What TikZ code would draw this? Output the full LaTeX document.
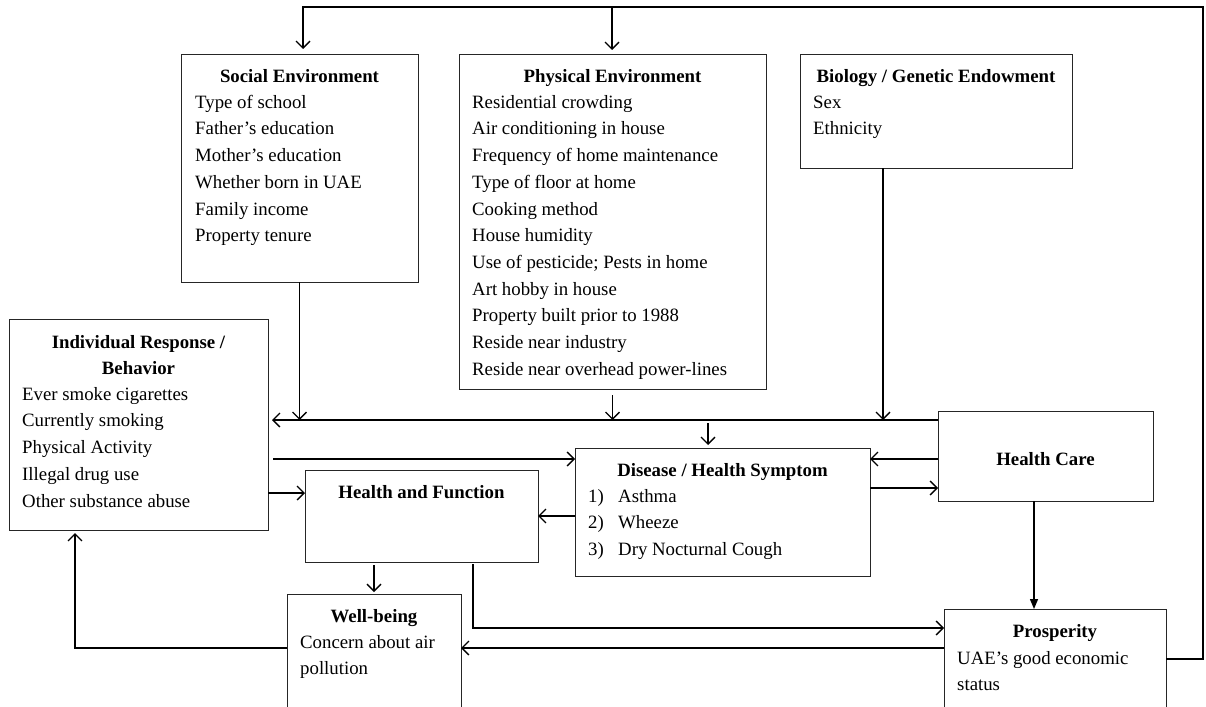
\documentclass[tikz,border=0pt]{standalone}
\usepackage{fontspec}
\setmainfont{Liberation Serif}
\usetikzlibrary{arrows.meta, calc}
\newcommand{\fsz}{\fontsize{18.8}{26.7}\selectfont}
\tikzset{
  box/.style   = {draw=black!85, line width=1pt, inner sep=0pt, outer sep=0pt,
                  anchor=north west},
  ttl/.style   = {font=\fsz\bfseries, anchor=north, align=center,
                  inner sep=0pt, yshift=18.69pt},
  items/.style = {font=\fsz, anchor=north west, align=left,
                  inner sep=0pt, yshift=18.69pt},
  conn/.style  = {line width=1.4pt, black},
  arr/.style   = {conn, -{Straight Barb[length=7pt,width=14pt,line width=1.3pt]}},
  farr/.style  = {conn, -{Triangle[length=10pt,width=8pt]}}
}

\begin{document}
\begin{tikzpicture}[x=1pt, y=-1pt]
  \useasboundingbox (0,0) rectangle (1206,706);
  \clip (0,0) rectangle (1206,706);

  %% Boxes
  \node[box, minimum width=237pt, minimum height=227pt] (soc)  at (181,55)  {};
  \node[box, minimum width=307pt, minimum height=334pt] (phy)  at (459,55)  {};
  \node[box, minimum width=272pt, minimum height=113pt] (bio)  at (800,55)  {};
  \node[box, minimum width=259pt, minimum height=211pt] (ind)  at (9,319)   {};
  \node[box, minimum width=295pt, minimum height=128pt] (dis)  at (575,448) {};
  \node[box, minimum width=233pt, minimum height=92pt]  (hf)   at (305,470) {};
  \node[box, minimum width=215pt, minimum height=90pt]  (hc)   at (938,411) {};
  \node[box, minimum width=174pt, minimum height=140pt] (wb)   at (287,594) {};
  \node[box, minimum width=222pt, minimum height=130pt] (pros) at (944,609) {};

  %% Texts (placed by first baseline)
  \node[ttl] (soc-t) at (299.5,82) {\strut Social Environment};
  \node[items] (soc-i) at (195,108) {\strut Type of school\\ Father’s education\\
    Mother’s education\\ Whether born in UAE\\ Family income\\ Property tenure};

  \node[ttl] (phy-t) at (612.5,82) {\strut Physical Environment};
  \node[items] (phy-i) at (472,108) {\strut Residential crowding\\
    Air conditioning in house\\ Frequency of home maintenance\\
    Type of floor at home\\ Cooking method\\ House humidity\\
    Use of pesticide; Pests in home\\ Art hobby in house\\
    Property built prior to 1988\\ Reside near industry\\
    Reside near overhead power-lines};

  \node[ttl] (bio-t) at (936,82) {\strut Biology / Genetic Endowment};
  \node[items] (bio-i) at (813,108) {\strut Sex\\ Ethnicity};

  \node[ttl] (ind-t) at (138.5,348) {\strut Individual Response /\\ Behavior};
  \node[items] (ind-i) at (22,400) {\strut Ever smoke cigarettes\\
    Currently smoking\\ Physical Activity\\ Illegal drug use\\
    Other substance abuse};

  \node[ttl] (dis-t) at (722.5,476) {\strut Disease / Health Symptom};
  \node[items] (dis-n) at (588,502) {\strut 1)\\ 2)\\ 3)};
  \node[items] (dis-i) at (618,502) {\strut Asthma\\ Wheeze\\ Dry Nocturnal Cough};

  \node[ttl] (hf-t) at (421.5,498) {\strut Health and Function};
  \node[ttl] (hc-t) at (1045.5,465) {\strut Health Care};

  \node[ttl] (wb-t) at (374,622) {\strut Well-being};
  \node[items] (wb-i) at (300,648) {\strut Concern about air\\ pollution};

  \node[ttl] (pros-t) at (1055,637) {\strut Prosperity};
  \node[items] (pros-i) at (957,664) {\strut UAE’s good economic\\ status};

  %% Routing points
  \coordinate (topL) at (303,7);
  \coordinate (topM) at (612,7);
  \coordinate (topR) at (1203,7);
  \coordinate (bus)  at (0,420);
  \coordinate (lnA)  at (0,459);
  \coordinate (lnB)  at (0,488);
  \coordinate (lnC)  at (0,493);
  \coordinate (lnD)  at (0,628);
  \coordinate (lnE)  at (0,648);
  \coordinate (lnF)  at (0,659);
  \coordinate (bioX) at (883,0);
  \coordinate (disX) at (708,0);
  \coordinate (hfX)  at (473,0);
  \coordinate (indX) at (75,0);
  \coordinate (hcX)  at (1034,0);

  %% Feedback loop over the top
  \draw[arr, shorten >=6pt] (pros.east |- lnF) -- (topR |- lnF) -- (topR)
    -- (topL) -- (topL |- soc.north);
  \draw[arr, shorten >=5pt] (topM) -- (topM |- phy.north);

  %% Common line under the environment boxes
  \draw[arr, shorten >=4pt] (hc.west |- bus) -- (ind.east |- bus);
  \draw[arr] (soc.south) -- (soc.south |- bus);
  \draw[arr, shorten <=6pt] (phy.south) -- (phy.south |- bus);
  \draw[arr] (bioX |- bio.south) -- (bioX |- bus);
  \draw[arr, shorten <=3pt, shorten >=3pt] (disX |- bus) -- (disX |- dis.north);

  %% Middle row
  \draw[arr, shorten <=5pt] (ind.east |- lnA) -- (dis.west |- lnA);
  \draw[arr] (hc.west |- lnA) -- (dis.east |- lnA);
  \draw[arr] (dis.east |- lnB) -- (hc.west |- lnB);
  \draw[arr] (ind.east |- lnC) -- (hf.west |- lnC);
  \draw[arr] (dis.west |- hf.east) -- (hf.east);

  %% Lower row
  \draw[arr, shorten <=3pt, shorten >=2pt] (wb.north |- hf.south) -- (wb.north);
  \draw[arr, shorten <=2pt] (hfX |- hf.south) -- (hfX |- lnD) -- (pros.west |- lnD);
  \draw[arr] (pros.west |- lnE) -- (wb.east |- lnE);
  \draw[arr, shorten >=3pt] (wb.west |- lnE) -- (indX |- lnE) -- (indX |- ind.south);
  \draw[farr] (hcX |- hc.south) -- (hcX |- pros.north);

\end{tikzpicture}
\end{document}
